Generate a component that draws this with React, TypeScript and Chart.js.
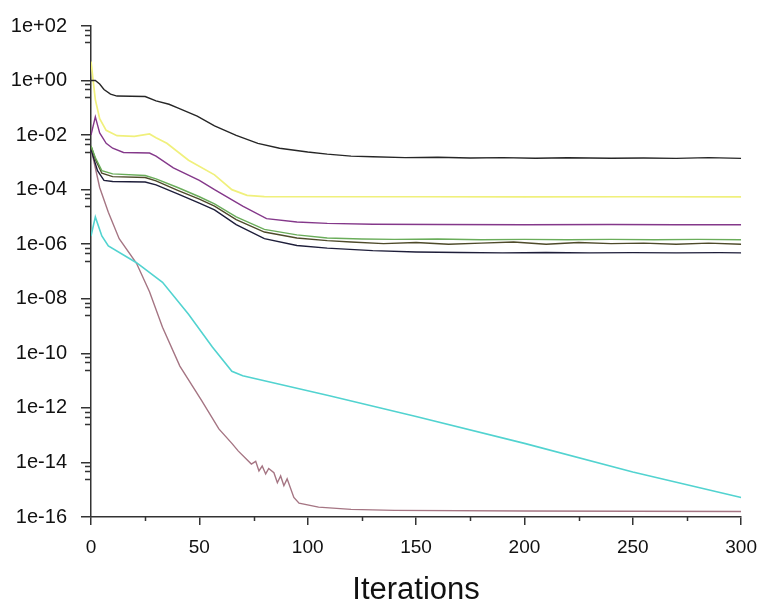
import React, { useEffect, useRef } from "react";
import { Chart, registerables } from "chart.js";

Chart.register(...registerables);

// ---- data ----
const blackX = [0, 2, 4, 6, 9, 12, 25, 30, 36, 40, 49, 57, 67, 77, 87, 100, 109, 120, 130, 145, 160, 175, 190, 205, 220, 240, 255, 270, 285, 300];
const blackY = [1.0, 1.0, 0.75, 0.47, 0.32, 0.27, 0.26, 0.18, 0.135, 0.1, 0.05, 0.022, 0.0098, 0.005, 0.0033, 0.0024, 0.002, 0.0017, 0.0016, 0.0015, 0.00155, 0.00145, 0.0015, 0.00142, 0.00148, 0.00142, 0.00145, 0.0014, 0.0015, 0.0014];

const yellowX = [0, 1, 2, 4, 7, 12, 20, 27, 30, 35, 45, 57, 65, 72, 80, 100, 150, 200, 250, 300];
const yellowY = [5, 1, 0.2, 0.04, 0.015, 0.0095, 0.009, 0.011, 0.008, 0.005, 0.0012, 0.00035, 0.0001, 6.2e-5, 5.6e-5, 5.5e-5, 5.5e-5, 5.4e-5, 5.5e-5, 5.4e-5];

const purpleX = [0, 2, 4, 7, 10, 15, 27, 30, 38, 50, 57, 70, 81, 95, 109, 130, 160, 200, 240, 270, 300];
const purpleY = [0.01, 0.047, 0.012, 0.005, 0.0033, 0.0023, 0.0022, 0.0017, 0.00063, 0.00022, 0.0001, 2.5e-5, 8.7e-6, 6.5e-6, 5.8e-6, 5.4e-6, 5.3e-6, 5.2e-6, 5.3e-6, 5.2e-6, 5.2e-6];

const greenX = [0, 2, 5, 10, 25, 30, 40, 50, 57, 67, 80, 95, 109, 125, 140, 160, 180, 200, 220, 240, 260, 280, 300];
const greenY = [0.004, 0.0015, 0.0005, 0.00038, 0.00033, 0.00025, 0.00012, 5.5e-5, 3e-5, 1e-5, 3.5e-6, 2.2e-6, 1.7e-6, 1.55e-6, 1.5e-6, 1.55e-6, 1.45e-6, 1.5e-6, 1.45e-6, 1.5e-6, 1.45e-6, 1.5e-6, 1.45e-6];

const oliveX = [0, 2, 5, 10, 25, 30, 40, 50, 57, 67, 80, 95, 109, 120, 135, 150, 165, 180, 195, 210, 225, 240, 255, 270, 285, 300];
const oliveY = [0.004, 0.0013, 0.0004, 0.0003, 0.00028, 0.00021, 9.5e-5, 4.5e-5, 2.5e-5, 8e-6, 2.8e-6, 1.7e-6, 1.35e-6, 1.2e-6, 1.05e-6, 1.15e-6, 1.0e-6, 1.1e-6, 1.2e-6, 1.0e-6, 1.15e-6, 1.05e-6, 1.1e-6, 1.0e-6, 1.1e-6, 1.0e-6];

const navyX = [0, 3, 6, 10, 25, 30, 40, 50, 57, 67, 80, 95, 109, 130, 150, 170, 190, 210, 230, 250, 270, 290, 300];
const navyY = [0.003, 0.0005, 0.00022, 0.0002, 0.00019, 0.00015, 7e-5, 3.2e-5, 1.8e-5, 5.2e-6, 1.6e-6, 9e-7, 7.2e-7, 5.8e-7, 5.2e-7, 5e-7, 4.8e-7, 5e-7, 4.8e-7, 4.9e-7, 4.8e-7, 4.9e-7, 4.8e-7];

const cyanX = [0, 2, 5, 8, 21, 33, 45, 56, 65, 70, 90, 110, 150, 200, 250, 300];
const cyanY = [2e-6, 1.0e-5, 2e-6, 8.7e-7, 2.1e-7, 4e-8, 2.7e-9, 1.7e-10, 2.2e-11, 1.5e-11, 6.5e-12, 2.8e-12, 4.8e-13, 5e-14, 4.5e-15, 5.2e-16];

const pinkX = [0, 4, 8, 13, 21, 27, 33, 41, 51, 59, 65, 68, 74, 76, 77.5, 79, 80.6, 82, 84.4, 86, 87.5, 89, 90.5, 93.6, 96, 105, 120, 140, 200, 300];
const pinkY = [0.0033, 1.2e-4, 1.5e-5, 1.6e-6, 2e-7, 1.8e-8, 9e-10, 3.4e-11, 1.9e-12, 1.7e-13, 5e-14, 2.6e-14, 8.7e-15, 1.1e-14, 4.9e-15, 7.4e-15, 3.8e-15, 6e-15, 4.2e-15, 1.8e-15, 3.2e-15, 1.4e-15, 2.5e-15, 5.2e-16, 3.2e-16, 2.3e-16, 1.9e-16, 1.75e-16, 1.65e-16, 1.6e-16];

const yTickValues = [1e2, 1e0, 1e-2, 1e-4, 1e-6, 1e-8, 1e-10, 1e-12, 1e-14, 1e-16];
const yMinorFactors = [0.72, 0.48, 0.25];
const xMinorTicks = [25, 75, 125, 175, 225, 275];
const xTitle = "Iterations";

const FONT = "Arial, 'Liberation Sans', sans-serif";

function fmtExp(v: number): string {
  const e = Math.round(Math.log10(v));
  const sign = e < 0 ? "-" : "+";
  const a = Math.abs(e);
  return "1e" + sign + (a < 10 ? "0" + a : String(a));
}

function pts(xs: number[], ys: number[]) {
  return xs.map((x, i) => ({ x, y: ys[i] }));
}

const minorTicksPlugin = {
  id: "minorTicks",
  afterDraw(chart: any) {
    const { ctx } = chart;
    const x = chart.scales.x;
    const y = chart.scales.y;
    ctx.save();
    ctx.strokeStyle = "#333";
    ctx.lineWidth = 1.5;
    ctx.beginPath();
    for (const v of xMinorTicks) {
      const px = Math.round(x.getPixelForValue(v)) + 0.5;
      ctx.moveTo(px, x.top);
      ctx.lineTo(px, x.top + 4);
    }
    for (const major of yTickValues.slice(0, -1)) {
      for (const f of yMinorFactors) {
        const py = Math.round(y.getPixelForValue(major * f)) + 0.5;
        ctx.moveTo(y.right - 6, py);
        ctx.lineTo(y.right, py);
      }
    }
    ctx.stroke();
    ctx.restore();
  },
};

export default function App() {
  const ref = useRef<HTMLCanvasElement | null>(null);
  useEffect(() => {
    if (!ref.current) return;
    const mk = (xs: number[], ys: number[], color: string, w = 1.4) => ({
      data: pts(xs, ys),
      borderColor: color,
      backgroundColor: color,
      borderWidth: w,
      pointRadius: 0,
      fill: false,
      tension: 0,
    });
    const chart = new Chart(ref.current, {
      type: "line",
      data: {
        datasets: [
          mk(blackX, blackY, "#262626"),
          mk(purpleX, purpleY, "#84388a"),
          mk(greenX, greenY, "#6aad5a"),
          mk(oliveX, oliveY, "#4e4a2a"),
          mk(navyX, navyY, "#1e1e3a"),
          mk(yellowX, yellowY, "#f0f07c", 1.7),
          mk(cyanX, cyanY, "#52d3d0", 1.6),
          mk(pinkX, pinkY, "#a57583"),
        ],
      },
      options: {
        animation: false,
        responsive: false,
        devicePixelRatio: 1,
        layout: { padding: { top: 15, right: 22, left: 0, bottom: 0 } },
        plugins: { legend: { display: false }, tooltip: { enabled: false } },
        scales: {
          x: {
            type: "linear",
            min: 0,
            max: 300,
            afterFit: (s: any) => {
              s.height = 90;
            },
            grid: {
              drawOnChartArea: false,
              drawTicks: true,
              tickLength: 8,
              color: "#333",
              lineWidth: 1.5,
            },
            border: { display: true, color: "#333", width: 1.5 },
            ticks: {
              stepSize: 50,
              padding: 11,
              color: "#111",
              font: { family: FONT, size: 19 },
              maxRotation: 0,
            },
            title: {
              display: true,
              text: xTitle,
              color: "#111",
              font: { family: FONT, size: 31, lineHeight: 1 },
              padding: { top: 0, bottom: 1 },
            },
          },
          y: {
            type: "logarithmic",
            min: 1e-16,
            max: 1e2,
            afterFit: (s: any) => {
              s.width = 91;
            },
            afterBuildTicks: (s: any) => {
              s.ticks = yTickValues.map((v) => ({ value: v }));
            },
            grid: {
              drawOnChartArea: false,
              drawTicks: true,
              tickLength: 10,
              color: "#333",
              lineWidth: 1.5,
            },
            border: { display: true, color: "#333", width: 1.5 },
            ticks: {
              autoSkip: false,
              padding: 14,
              color: "#111",
              font: { family: FONT, size: 20 },
              callback: (v: any) => fmtExp(Number(v)),
            },
          },
        },
      },
      plugins: [minorTicksPlugin],
    } as any);
    return () => chart.destroy();
  }, []);
  return (
    <canvas
      ref={ref}
      width={768}
      height={607}
      style={{ position: "absolute", left: 0, top: 0, background: "#fff" }}
    />
  );
}
